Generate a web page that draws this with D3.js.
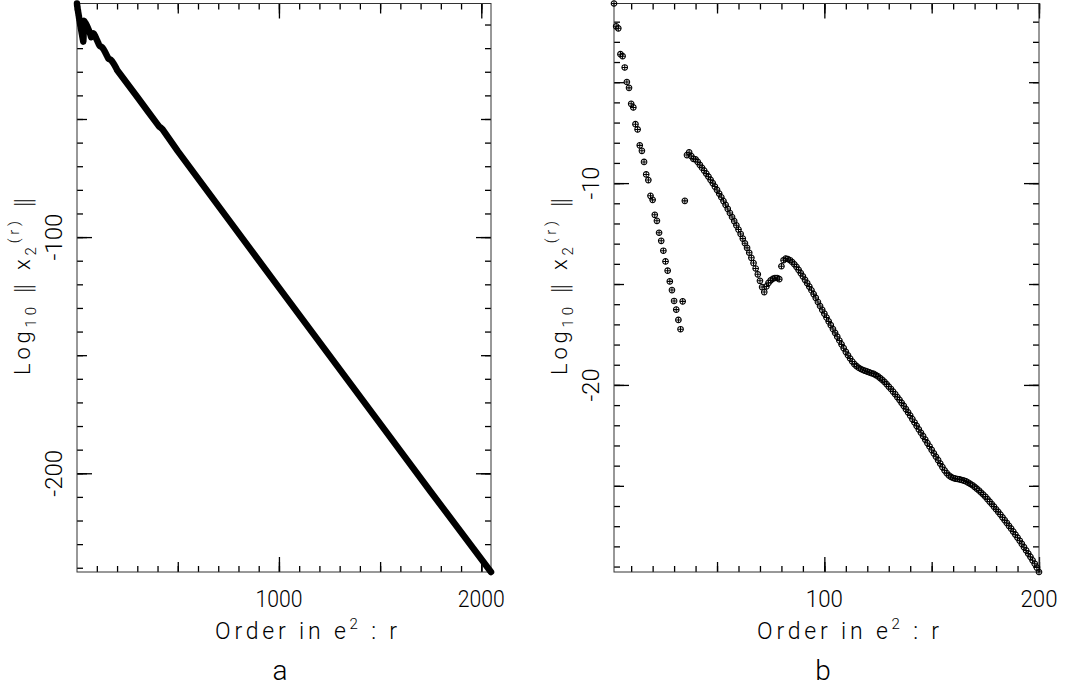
<!DOCTYPE html>
<html>
<head>
<meta charset="utf-8">
<script src="https://cdn.jsdelivr.net/npm/d3@7"></script>
<style>
body { margin: 0; background: #fff; }
text { font-family: Roboto, "DejaVu Sans", sans-serif; font-weight: 300; fill: #000; }
</style>
</head>
<body>
<script>
// log10 ||x2(r)|| for orders r = 2 .. 200 (panel b, also start of panel a)
var firstOrder = 2;
var normValues = [
  -1.10, -2.23, -2.33, -3.61, -3.71, -4.27, -4.99, -5.28, -6.07, -6.25,          // r 2-11
  -7.08, -7.34, -8.13, -8.40, -8.95, -9.57, -9.85, -10.63, -10.83, -11.57,       // r 12-21
  -11.87, -12.46, -12.86, -13.35, -13.88, -14.34, -14.87, -15.30, -15.84, -16.27, // r 22-31
  -16.78, -17.24, -15.86, -10.88, -8.61, -8.47, -8.66, -8.80, -8.82, -8.95,     // r 32-41
  -9.10, -9.24, -9.38, -9.53, -9.68, -9.84, -10.00, -10.17, -10.34, -10.52,     // r 42-51
  -10.70, -10.89, -11.08, -11.28, -11.48, -11.68, -11.88, -12.09, -12.30, -12.52, // r 52-61
  -12.75, -12.98, -13.21, -13.45, -13.70, -13.96, -14.23, -14.52, -14.84, -15.15, // r 62-71
  -15.40, -15.12, -14.94, -14.82, -14.74, -14.70, -14.70, -14.76, -14.12, -13.82, // r 72-81
  -13.74, -13.76, -13.82, -13.91, -14.02, -14.15, -14.30, -14.46, -14.62, -14.79, // r 82-91
  -14.96, -15.13, -15.31, -15.50, -15.69, -15.89, -16.09, -16.28, -16.47, -16.66, // r 92-101
  -16.85, -17.04, -17.23, -17.42, -17.61, -17.80, -17.99, -18.18, -18.36, -18.53, // r 102-111
  -18.69, -18.84, -18.97, -19.07, -19.15, -19.21, -19.26, -19.30, -19.34, -19.38, // r 112-121
  -19.42, -19.45, -19.51, -19.58, -19.66, -19.75, -19.85, -19.96, -20.08, -20.20, // r 122-131
  -20.33, -20.46, -20.60, -20.74, -20.89, -21.04, -21.20, -21.36, -21.52, -21.69, // r 132-141
  -21.86, -22.03, -22.20, -22.37, -22.54, -22.71, -22.88, -23.05, -23.22, -23.39, // r 142-151
  -23.56, -23.73, -23.90, -24.07, -24.23, -24.37, -24.48, -24.56, -24.61, -24.64, // r 152-161
  -24.66, -24.68, -24.71, -24.74, -24.78, -24.84, -24.90, -24.97, -25.05, -25.14, // r 162-171
  -25.23, -25.33, -25.43, -25.54, -25.66, -25.78, -25.90, -26.03, -26.16, -26.29, // r 172-181
  -26.42, -26.56, -26.70, -26.84, -26.98, -27.12, -27.27, -27.42, -27.57, -27.72, // r 182-191
  -27.88, -28.04, -28.20, -28.36, -28.52, -28.69, -28.86, -29.05, -29.27          // r 192-200
];

// panel a continues to high orders
var tailOrders = [250, 300, 350, 400, 408, 416, 424, 500, 750, 1000, 1250, 1500, 1750, 2048];
var tailValues = [-35.0, -40.7, -46.5, -52.3, -53.2, -53.7, -54.3, -63.6, -92.5, -121.4, -150.2, -179.0, -207.8, -241.8];

// tick labels
var aXLabels = [1000, 2000];
var aYLabels = [-100, -200];
var bXLabels = [100, 200];
var bYLabels = [-10, -20];

var width = 1067, height = 690;
var top0 = 3.5, bottom0 = 572;

var svg = d3.select("body").append("svg")
    .attr("width", width)
    .attr("height", height);

var bData = normValues.map(function(v, i) { return {r: firstOrder + i, v: v}; });
var aData = bData.concat(tailOrders.map(function(r, i) { return {r: r, v: tailValues[i]}; }));

var panels = [
  {data: aData, x0: 77, x1: 491, xt: [100, 500, 1000], yt: [10, 50, 100],
   xLabels: aXLabels, yLabels: aYLabels, xLen: 47, yLen: 47, titleX: 306, tag: "a", tagX: 280, line: true},
  {data: bData, x0: 614, x1: 1039, xt: [10, 50, 100], yt: [1, 5, 10],
   xLabels: bXLabels, yLabels: bYLabels, xLen: 37, yLen: 33, titleX: 848, tag: "b", tagX: 823, line: false}
];

function steps(dom, step) {
  var a = Math.ceil(dom[0] / step - 1e-9) * step;
  return d3.range(a, dom[1] + 1e-9, step);
}

panels.forEach(function(p) {
  var x = d3.scaleLinear()
      .domain(d3.extent(p.data, function(d) { return d.r; }))
      .range([p.x0, p.x1]);
  var y = d3.scaleLinear()
      .domain(d3.extent(p.data, function(d) { return d.v; }))
      .range([bottom0, top0]);

  var g = svg.append("g");
  var lens = [6, 10, 15];

  // ticks on all four sides, pointing inward
  lens.forEach(function(len, k) {
    var xv = steps(x.domain(), p.xt[k]);
    var yv = steps(y.domain(), p.yt[k]);
    var axes = [
      [d3.axisBottom(x).tickValues(xv), "translate(0," + bottom0 + ")"],
      [d3.axisTop(x).tickValues(xv), "translate(0," + top0 + ")"],
      [d3.axisLeft(y).tickValues(yv), "translate(" + p.x0 + ",0)"],
      [d3.axisRight(y).tickValues(yv), "translate(" + p.x1 + ",0)"]
    ];
    axes.forEach(function(a) {
      g.append("g")
          .attr("transform", a[1])
          .call(a[0].tickSize(-len).tickFormat(""))
          .call(function(s) { s.select(".domain").remove(); })
          .selectAll("line").attr("stroke", "#000").attr("stroke-width", 1.3);
    });
  });

  // frame
  g.append("rect")
      .attr("x", p.x0).attr("y", top0)
      .attr("width", p.x1 - p.x0).attr("height", bottom0 - top0)
      .attr("fill", "none").attr("stroke", "#333").attr("stroke-width", 1);

  if (p.line) {
    g.append("path")
        .datum(p.data)
        .attr("fill", "none")
        .attr("stroke", "#000")
        .attr("stroke-width", 6.5)
        .attr("stroke-linejoin", "round")
        .attr("stroke-linecap", "round")
        .attr("d", d3.line().x(function(d) { return x(d.r); }).y(function(d) { return y(d.v); }));
  } else {
    var m = g.selectAll(".pt")
        .data(p.data)
        .enter().append("g")
        .attr("class", "pt")
        .attr("transform", function(d) { return "translate(" + x(d.r) + "," + y(d.v) + ")"; })
        .attr("stroke", "#000")
        .attr("stroke-width", 1.05)
        .attr("fill", "none");
    m.append("circle").attr("r", 2.8);
    m.append("path").attr("d", "M-2.8,0H2.8M0,-2.8V2.8");
  }

  // tick labels
  p.xLabels.forEach(function(v) {
    g.append("text")
        .attr("x", x(v)).attr("y", 606.5)
        .attr("text-anchor", "middle")
        .attr("font-size", 24)
        .attr("textLength", p.xLen)
        .attr("lengthAdjust", "spacingAndGlyphs")
        .text(v);
  });
  p.yLabels.forEach(function(v) {
    g.append("text")
        .attr("transform", "translate(" + (p.x0 - 15) + "," + y(v) + ") rotate(-90)")
        .attr("text-anchor", "middle")
        .attr("font-size", 24)
        .attr("textLength", p.yLen)
        .attr("lengthAdjust", "spacingAndGlyphs")
        .text(v);
  });

  // x title
  var xt = g.append("text")
      .attr("x", p.titleX).attr("y", 639)
      .attr("text-anchor", "middle")
      .attr("font-size", 23)
      .attr("textLength", 182)
      .attr("lengthAdjust", "spacing");
  xt.append("tspan").text("Order in e");
  xt.append("tspan").attr("dy", -10).attr("font-size", 15).text("2");
  xt.append("tspan").attr("dy", 10).text(" : r");

  // y title
  var yt = g.append("text")
      .attr("transform", "translate(" + (p.x0 - 47) + ",286) rotate(-90)")
      .attr("text-anchor", "middle")
      .attr("font-size", 22)
      .attr("textLength", 178)
      .attr("lengthAdjust", "spacing");
  yt.append("tspan").text("Log");
  yt.append("tspan").attr("dy", 6).attr("font-size", 15).text("10");
  yt.append("tspan").attr("dy", -6).text(" \u2016 x");
  yt.append("tspan").attr("dy", 6).attr("font-size", 15).text("2");
  yt.append("tspan").attr("dy", -17).attr("font-size", 15).text("(r)");
  yt.append("tspan").attr("dy", 11).text(" \u2016");

  // panel tag
  g.append("text")
      .attr("x", p.tagX).attr("y", 680)
      .attr("text-anchor", "middle")
      .attr("font-size", 28)
      .text(p.tag);
});
</script>
</body>
</html>
